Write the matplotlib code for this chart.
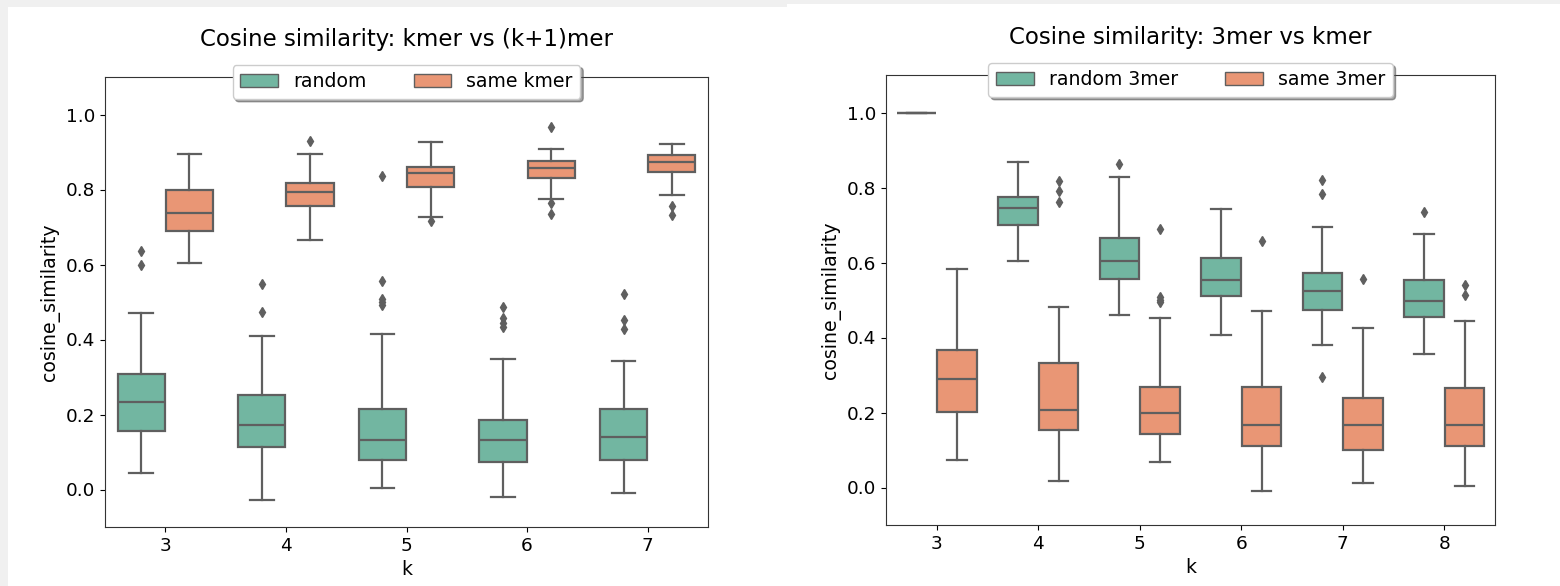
import colorsys

import numpy as np
import matplotlib
matplotlib.use("Agg")
import matplotlib.pyplot as plt
from matplotlib.patches import Rectangle, Patch

# Datos (cosine_similarity)
# cada tupla: (whislo, q1, mediana, q3, whishi)

K_LEFT = ["3", "4", "5", "6", "7"]
LEFT_RANDOM = [
    (0.045, 0.155, 0.233, 0.308, 0.471),
    (-0.028, 0.113, 0.172, 0.251, 0.409),
    (0.005, 0.080, 0.131, 0.215, 0.416),
    (-0.021, 0.073, 0.131, 0.186, 0.347),
    (-0.010, 0.080, 0.139, 0.215, 0.344),
]
LEFT_RANDOM_FLIERS = [
    [0.635, 0.600],
    [0.547, 0.473],
    [0.836, 0.555, 0.509, 0.500, 0.491],
    [0.488, 0.458, 0.443, 0.433],
    [0.522, 0.451, 0.428],
]
LEFT_SAME = [
    (0.604, 0.690, 0.738, 0.800, 0.894),
    (0.666, 0.756, 0.793, 0.818, 0.894),
    (0.727, 0.806, 0.844, 0.861, 0.926),
    (0.774, 0.831, 0.858, 0.875, 0.907),
    (0.785, 0.847, 0.874, 0.891, 0.922),
]
LEFT_SAME_FLIERS = [
    [],
    [0.930],
    [0.716],
    [0.967, 0.764, 0.734],
    [0.756, 0.731],
]

K_RIGHT = ["3", "4", "5", "6", "7", "8"]
RIGHT_RANDOM = [
    (1.0, 1.0, 1.0, 1.0, 1.0),
    (0.604, 0.701, 0.745, 0.774, 0.867),
    (0.460, 0.557, 0.604, 0.665, 0.827),
    (0.406, 0.510, 0.554, 0.612, 0.744),
    (0.381, 0.474, 0.525, 0.571, 0.695),
    (0.355, 0.456, 0.497, 0.553, 0.675),
]
RIGHT_RANDOM_FLIERS = [
    [],
    [],
    [0.862],
    [],
    [0.821, 0.782, 0.296],
    [0.734],
]
RIGHT_SAME = [
    (0.074, 0.201, 0.290, 0.367, 0.582),
    (0.017, 0.153, 0.208, 0.331, 0.482),
    (0.067, 0.143, 0.198, 0.269, 0.452),
    (-0.008, 0.111, 0.168, 0.269, 0.470),
    (0.013, 0.099, 0.168, 0.240, 0.426),
    (0.003, 0.111, 0.168, 0.265, 0.445),
]
RIGHT_SAME_FLIERS = [
    [],
    [0.817, 0.790, 0.762],
    [0.689, 0.508, 0.500, 0.494],
    [0.658],
    [0.556],
    [0.540, 0.513],
]


def desaturar(hex_color, prop=0.75):
    r, g, b = matplotlib.colors.to_rgb(hex_color)
    h, l, s = colorsys.rgb_to_hls(r, g, b)
    return colorsys.hls_to_rgb(h, l, s * prop)


VERDE = desaturar("#66c2a5")
NARANJA = desaturar("#fc8d62")
GRIS = "#5f5f5f"


def stats(cajas, fliers):
    out = []
    for (lo, q1, med, q3, hi), fl in zip(cajas, fliers):
        out.append(dict(whislo=lo, q1=q1, med=med, q3=q3, whishi=hi, fliers=fl))
    return out


def dibujar(ax, ks, cajas_a, fl_a, cajas_b, fl_b, etiquetas, titulo):
    x = np.arange(len(ks))
    ancho = 0.4 * 0.98
    props = dict(
        patch_artist=True,
        widths=ancho,
        boxprops=dict(edgecolor=GRIS, linewidth=1.6),
        medianprops=dict(color=GRIS, linewidth=1.6),
        whiskerprops=dict(color=GRIS, linewidth=1.6),
        capprops=dict(color=GRIS, linewidth=1.6),
        flierprops=dict(marker="d", markerfacecolor=GRIS, markeredgecolor=GRIS,
                        markersize=5.5),
    )
    for cajas, fl, dx, color in [(cajas_a, fl_a, -0.2, VERDE), (cajas_b, fl_b, 0.2, NARANJA)]:
        res = ax.bxp(stats(cajas, fl), positions=x + dx, **props)
        for caja in res["boxes"]:
            caja.set_facecolor(color)
    ax.set_xticks(x)
    ax.set_xticklabels(ks)
    ax.set_xlim(-0.5, len(ks) - 0.5)
    ax.set_ylim(-0.1, 1.1)
    ax.set_yticks([0.0, 0.2, 0.4, 0.6, 0.8, 1.0])
    ax.set_xlabel("k", fontsize=13.6, labelpad=4)
    ax.set_ylabel("cosine_similarity", fontsize=13.6)
    ax.set_title(titulo, fontsize=16.5, pad=22)
    ax.tick_params(labelsize=13.3)
    for s in ax.spines.values():
        s.set_color("#333333")
    handles = [Patch(facecolor=VERDE, edgecolor=GRIS, label=etiquetas[0]),
               Patch(facecolor=NARANJA, edgecolor=GRIS, label=etiquetas[1])]
    ax.legend(handles=handles, loc="upper center", bbox_to_anchor=(0.5, 1.027),
              ncol=2, shadow=True, fontsize=13.6, columnspacing=2.5,
              framealpha=1.0, borderaxespad=0)


fig = plt.figure(figsize=(15.6, 5.86), dpi=100, facecolor="white")
W, H = 1560, 586
# bordes grises de la captura
fig.patches.append(Rectangle((0, 0), 8 / W, 1, transform=fig.transFigure,
                             facecolor="#f0f0f0", edgecolor="none", zorder=-1))
fig.patches.append(Rectangle((0, 1 - 7 / H), 787 / W, 7 / H, transform=fig.transFigure,
                             facecolor="#f0f0f0", edgecolor="none", zorder=-1))
fig.patches.append(Rectangle((787 / W, 1 - 4 / H), 1 - 787 / W, 4 / H,
                             transform=fig.transFigure,
                             facecolor="#f0f0f0", edgecolor="none", zorder=-1))

ax1 = fig.add_axes([105 / W, 1 - 527 / H, (708 - 105) / W, (527 - 77) / H])
ax2 = fig.add_axes([886 / W, 1 - 525 / H, (1495 - 886) / W, (525 - 75) / H])

dibujar(ax1, K_LEFT, LEFT_RANDOM, LEFT_RANDOM_FLIERS, LEFT_SAME, LEFT_SAME_FLIERS,
        ["random", "same kmer"], "Cosine similarity: kmer vs (k+1)mer")
dibujar(ax2, K_RIGHT, RIGHT_RANDOM, RIGHT_RANDOM_FLIERS, RIGHT_SAME, RIGHT_SAME_FLIERS,
        ["random 3mer", "same 3mer"], "Cosine similarity: 3mer vs kmer")

fig.savefig("out.png", dpi=100, facecolor=fig.get_facecolor())
